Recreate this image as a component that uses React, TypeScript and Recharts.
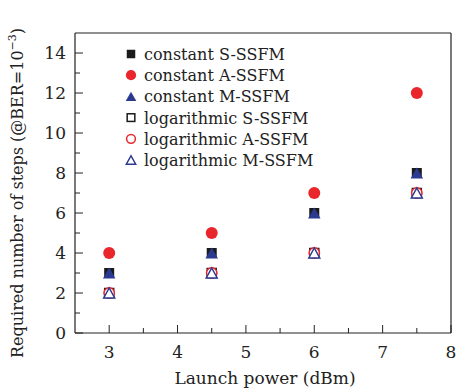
import {
  ScatterChart,
  Scatter,
  XAxis,
  YAxis,
} from "recharts";

const powers = [3, 4.5, 6, 7.5];

const constantS = [3, 4, 6, 8];
const constantA = [4, 5, 7, 12];
const constantM = [3, 4, 6, 8];
const logS = [2, 3, 4, 7];
const logA = [2, 3, 4, 7];
const logM = [2, 3, 4, 7];

const xTicks = [3, 3.5, 4, 4.5, 5, 5.5, 6, 6.5, 7, 7.5, 8];
const yTicks = [0, 1, 2, 3, 4, 5, 6, 7, 8, 9, 10, 11, 12, 13, 14];

const BLACK = "#1b1b1b";
const RED = "#e8262b";
const NAVY = "#2b3a90";
const FONT = "'DejaVu Serif', serif";

type Kind = "square" | "circle" | "triangle";

const SERIES: { name: string; values: number[]; kind: Kind; color: string; filled: boolean }[] = [
  { name: "constant S-SSFM", values: constantS, kind: "square", color: BLACK, filled: true },
  { name: "constant A-SSFM", values: constantA, kind: "circle", color: RED, filled: true },
  { name: "constant M-SSFM", values: constantM, kind: "triangle", color: NAVY, filled: true },
  { name: "logarithmic S-SSFM", values: logS, kind: "square", color: BLACK, filled: false },
  { name: "logarithmic A-SSFM", values: logA, kind: "circle", color: RED, filled: false },
  { name: "logarithmic M-SSFM", values: logM, kind: "triangle", color: NAVY, filled: false },
];

function Marker({ cx, cy, kind, color, filled, scale = 1 }: any) {
  const fill = filled ? color : "#fff";
  const sw = 1.5;
  if (kind === "square") {
    const s = (filled ? 10 : 9) * scale;
    return <rect x={cx - s / 2} y={cy - s / 2} width={s} height={s} fill={fill} stroke={color} strokeWidth={filled ? 0 : sw} />;
  }
  if (kind === "circle") {
    const r = (filled ? 6 : 5.2) * scale;
    return <circle cx={cx} cy={cy} r={r} fill={fill} stroke={color} strokeWidth={filled ? 0 : sw} />;
  }
  const h = (filled ? 11 : 10) * scale;
  const w = (filled ? 12.5 : 11) * scale;
  const pts = `${cx - w / 2},${cy + h / 2} ${cx + w / 2},${cy + h / 2} ${cx},${cy - h / 2}`;
  return <polygon points={pts} fill={fill} stroke={color} strokeWidth={filled ? 0 : sw} />;
}

const XTick = ({ x, y, payload }: any) => {
  const major = Number.isInteger(payload.value);
  return (
    <g>
      <line x1={x} x2={x} y1={y} y2={y - (major ? 8 : 5)} stroke="#222" strokeWidth={1} />
      {major && (
        <text x={x} y={y + 25} textAnchor="middle" fontFamily={FONT} fontSize={17} fill="#222">
          {payload.value}
        </text>
      )}
    </g>
  );
};

const YTick = ({ x, y, payload }: any) => {
  const major = payload.value % 2 === 0;
  return (
    <g>
      <line x1={x} x2={x + (major ? 8 : 5)} y1={y} y2={y} stroke="#222" strokeWidth={1} />
      {major && (
        <text x={x - 9} y={y + 6} textAnchor="end" fontFamily={FONT} fontSize={17} fill="#222">
          {payload.value}
        </text>
      )}
    </g>
  );
};

export default function App() {
  return (
    <div style={{ position: "absolute", left: 0, top: 0, width: 458, height: 390, background: "#fff" }}>
      <ScatterChart width={458} height={390} margin={{ top: 32, right: 6, left: 0, bottom: 0 }}>
        <XAxis
          xAxisId="top"
          orientation="top"
          type="number"
          dataKey="x"
          domain={[2.5, 8]}
          height={1}
          tick={false}
          tickLine={false}
          axisLine={{ stroke: "#222", strokeWidth: 1.2 }}
        />
        <YAxis
          yAxisId="right"
          orientation="right"
          type="number"
          dataKey="y"
          domain={[0, 15]}
          width={1}
          tick={false}
          tickLine={false}
          axisLine={{ stroke: "#222", strokeWidth: 1.2 }}
        />
        <XAxis
          type="number"
          dataKey="x"
          domain={[2.5, 8]}
          ticks={xTicks}
          interval={0}
          height={57}
          tickSize={0}
          tickMargin={0}
          tickLine={false}
          tick={<XTick />}
          axisLine={{ stroke: "#222", strokeWidth: 1.2 }}
        />
        <YAxis
          type="number"
          dataKey="y"
          domain={[0, 15]}
          ticks={yTicks}
          interval={0}
          width={75}
          tickSize={0}
          tickMargin={0}
          tickLine={false}
          tick={<YTick />}
          axisLine={{ stroke: "#222", strokeWidth: 1.2 }}
        />
        {SERIES.map((s) => (
          <Scatter
            key={s.name}
            name={s.name}
            data={powers.map((p, i) => ({ x: p, y: s.values[i] }))}
            isAnimationActive={false}
            shape={(props: any) => (
              <Marker cx={props.cx} cy={props.cy} kind={s.kind} color={s.color} filled={s.filled} />
            )}
          />
        ))}
      </ScatterChart>
      <svg
        width={458}
        height={390}
        style={{ position: "absolute", left: 0, top: 0, pointerEvents: "none" }}
      >
        <text x={265} y={384} textAnchor="middle" fontFamily={FONT} fontSize={17} fill="#222">
          Launch power (dBm)
        </text>
        <text
          x={23}
          y={193}
          transform="rotate(-90 23 193)"
          textAnchor="middle"
          fontFamily={FONT}
          fontSize={16}
          fill="#222"
        >
          Required number of steps (@BER=10
          <tspan dy={-7} fontSize={11}>−3</tspan>
          <tspan dy={7}>)</tspan>
        </text>
        {SERIES.map((s, i) => (
          <g key={s.name}>
            <Marker cx={131} cy={54 + i * 21.2} kind={s.kind} color={s.color} filled={s.filled} scale={0.85} />
            <text x={144} y={60 + i * 21.2} fontFamily={FONT} fontSize={16} fill="#222">
              {s.name}
            </text>
          </g>
        ))}
      </svg>
    </div>
  );
}
